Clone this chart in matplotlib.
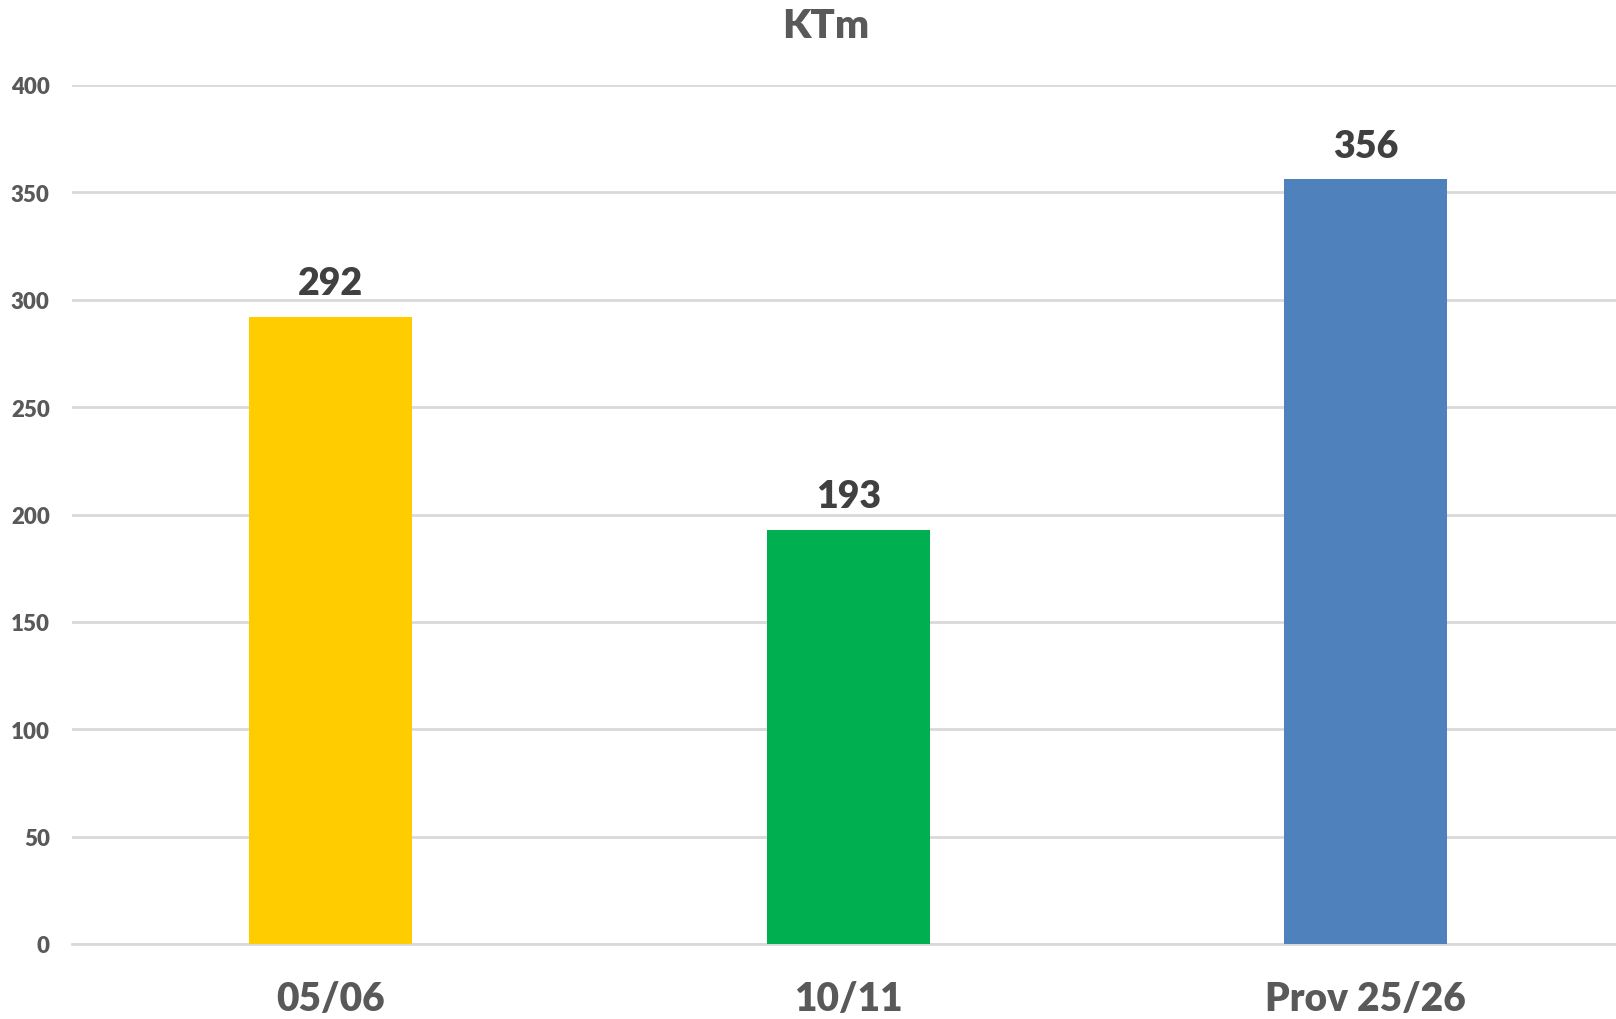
import matplotlib.pyplot as plt

plt.rcParams['font.family'] = ['Lato', 'DejaVu Sans']

# chart data
categories = ['05/06', '10/11', 'Prov 25/26']
values = [292, 193, 356]
bar_colors = ['#FFCC00', '#00B050', '#4F81BD']
y_ticks = [0, 50, 100, 150, 200, 250, 300, 350, 400]

fig = plt.figure(figsize=(16.16, 10.2), dpi=100)
ax = fig.add_axes([72 / 1616, 75 / 1020, 1552.5 / 1616, 859 / 1020])

x = range(len(categories))
bars = ax.bar(x, values, width=0.315, color=bar_colors, zorder=3)

for xi, v in zip(x, values):
    ax.annotate(str(v), (xi, v), xytext=(0, 12), textcoords='offset points',
                ha='center', va='bottom', fontsize=27, fontweight='heavy', color='#404040')

ax.set_xlim(-0.5, 2.5)
ax.set_ylim(0, 400)
ax.set_yticks(y_ticks)
ax.set_yticklabels([str(t) for t in y_ticks], fontsize=16, fontweight='heavy', color='#595959')
ax.set_xticks(list(x))
ax.set_xticklabels(categories, fontsize=28, fontweight='heavy', color='#595959')
ax.tick_params(axis='both', length=0)
ax.tick_params(axis='y', pad=16)
ax.tick_params(axis='x', pad=26)

ax.grid(axis='y', color='#D9D9D9', linewidth=2, zorder=0)
for s in ['top', 'right', 'left']:
    ax.spines[s].set_visible(False)
ax.spines['bottom'].set_color('#D9D9D9')
ax.spines['bottom'].set_linewidth(2)

fig.text(826 / 1616, 1 - 26 / 1020, 'KTm', ha='center', va='center',
         fontsize=29, fontweight='heavy', color='#595959')

fig.savefig('out.png', dpi=100)
